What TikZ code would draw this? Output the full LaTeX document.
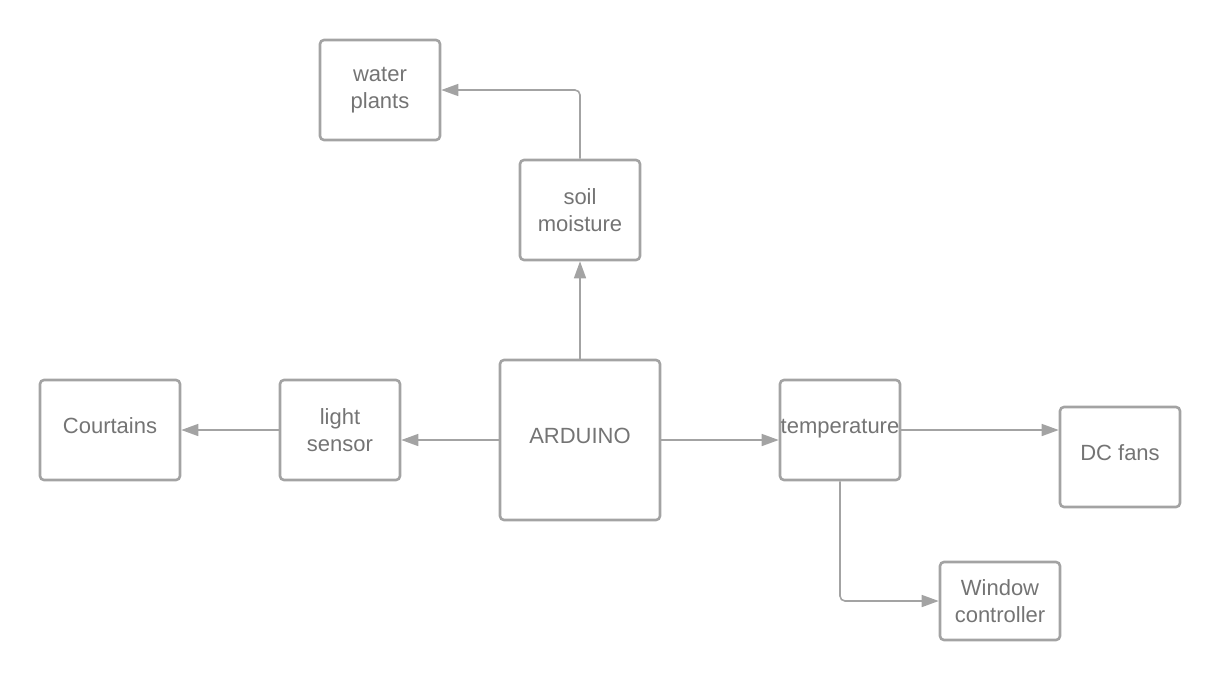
\documentclass[tikz,border=0pt]{standalone}
\usepackage{fontspec}
\setmainfont{Liberation Sans}
\usepackage{tikz}
\usetikzlibrary{arrows.meta,positioning,calc}
\definecolor{boxgray}{HTML}{A3A3A3}
\definecolor{txtgray}{HTML}{747474}

\begin{document}
\begin{tikzpicture}[x=1pt,y=-1pt,
	blk/.style={draw=boxgray,line width=2.6pt,rounded corners=4pt,text=txtgray,align=center,
		inner sep=0pt,minimum width=120pt,minimum height=100pt,font=\fontsize{22}{27}\selectfont},
	oneline/.style={text depth=8pt},
	arr/.style={draw=boxgray,line width=1.6pt,rounded corners=5pt,-{Triangle[length=17pt,width=12pt]}}]
	\useasboundingbox (0,0) rectangle (1220,681);
	% boxes
	\node[blk] (water) at (380,90) {water\\plants};
	\node[blk] (soil) at (580,210) {soil\\moisture};
	\node[blk,oneline,minimum width=160pt,minimum height=160pt] (arduino) at (580,440) {ARDUINO};
	\node[blk] (light) at (340,430) {light\\sensor};
	\node[blk,oneline,minimum width=140pt] (curtains) at (110,430) {Courtains};
	\node[blk,oneline] (temp) at (840,430) {temperature};
	\node[blk,oneline] (fans) at (1120,457) {DC fans};
	\node[blk,minimum height=78pt] (window) at (1000,601) {Window\\controller};
	% arrows
	\draw[arr] (arduino.north) -- (soil.south);
	\draw[arr] (soil.north) |- (water.east);
	\draw[arr] (arduino.west) -- (arduino.west -| light.east);
	\draw[arr] (light.west) -- (curtains.east);
	\draw[arr] (arduino.east) -- (arduino.east -| temp.west);
	\draw[arr] (temp.east) -- (temp.east -| fans.west);
	\draw[arr] (temp.south) |- (window.west);
\end{tikzpicture}
\end{document}
